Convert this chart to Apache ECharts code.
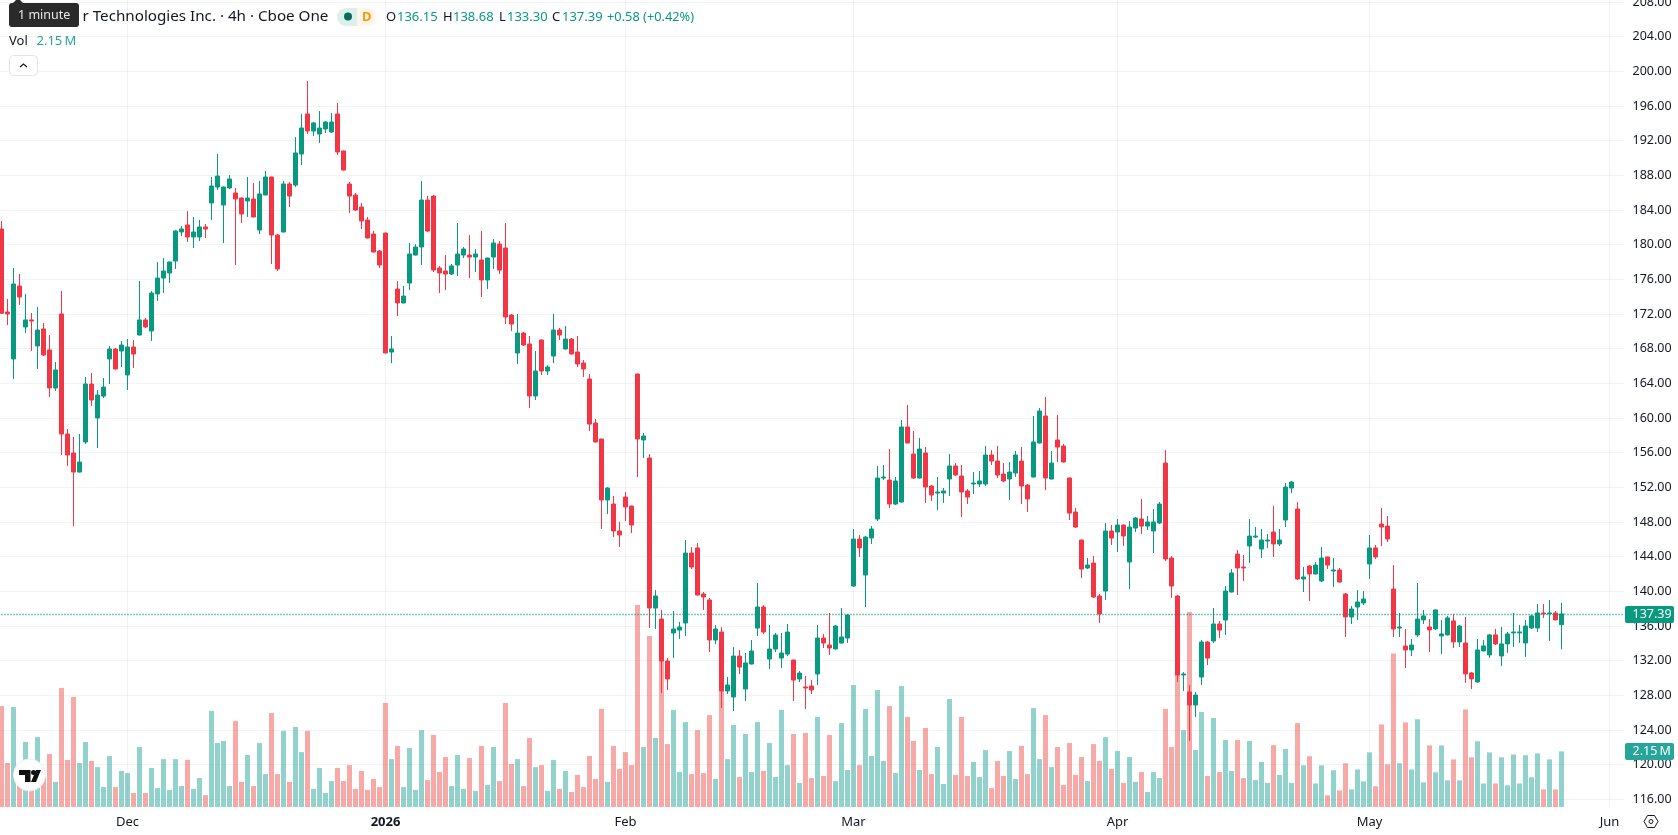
<!DOCTYPE html>
<html>
<head>
<meta charset="utf-8">
<title>Candlestick chart</title>
<style>html,body{margin:0;padding:0;background:#fff}#chart{width:1678px;height:835px}</style>
<script src="https://cdn.jsdelivr.net/npm/echarts@6/dist/echarts.min.js"></script>
</head>
<body>
<div id="chart"></div>
<script>
// Four-hour bars, oldest first
const opens = [
181.81,172.23,166.81,175.23,170.50,171.31,168.31,170.27,167.85,163.46,
172.00,158.15,155.96,153.76,157.23,163.92,160.00,162.53,166.81,167.96,
167.73,164.96,168.19,169.58,171.31,170.04,174.31,176.15,176.73,178.11,
181.46,182.27,180.88,180.88,182.04,184.81,186.65,184.58,186.54,185.96,
185.38,185.04,185.27,181.69,185.73,187.81,181.11,181.46,187.00,186.88,
190.46,195.08,193.11,192.77,193.35,193.00,195.08,190.81,187.00,185.73,
184.34,182.84,181.23,179.27,181.34,167.61,174.88,173.27,175.57,178.80,
179.73,185.15,185.61,177.30,176.96,176.61,177.65,178.80,178.80,178.57,
178.23,175.92,178.57,180.07,179.61,171.88,167.50,169.80,168.54,162.54,
169.00,165.42,167.15,170.15,167.96,169.11,167.61,166.34,164.50,159.42,
157.57,150.54,150.07,146.96,150.88,149.84,165.07,157.46,155.38,138.07,
136.80,131.96,135.19,135.53,136.34,144.42,145.00,139.69,139.00,134.38,
135.30,128.50,127.80,132.53,128.73,131.61,135.76,138.19,132.19,133.34,
132.30,132.76,132.07,129.88,128.96,129.07,130.46,134.61,133.80,133.34,
134.03,134.61,140.61,146.03,141.88,146.15,148.34,153.07,152.84,150.07,
150.30,158.96,155.84,153.07,155.96,152.15,151.34,151.34,152.96,154.46,
153.30,151.57,152.38,152.38,152.38,155.73,155.03,153.53,152.96,153.65,
155.03,152.26,153.19,157.11,160.23,152.96,157.46,156.76,153.07,149.15,
145.92,142.69,143.26,139.46,140.03,146.96,146.84,147.65,143.38,147.30,
148.34,147.53,146.96,147.88,154.80,143.84,139.46,130.34,128.38,126.88,
130.11,134.15,134.26,136.23,136.69,139.92,144.30,142.80,145.23,146.26,
144.88,145.80,146.84,145.46,148.23,151.92,149.50,141.42,142.92,142.00,
141.19,143.96,142.34,142.46,139.69,137.04,138.19,138.65,143.15,145.00,
147.76,147.53,140.26,135.76,133.69,133.23,134.96,136.70,135.89,135.66,
134.85,134.97,136.58,134.16,134.04,130.58,129.54,133.12,132.66,134.97,
132.54,133.93,135.20,135.20,134.04,135.77,135.77,137.50,137.39,137.50,136.15];

const highs = [
182.73,173.73,177.31,176.61,174.31,172.11,172.81,170.96,169.58,166.46,
174.65,158.73,157.80,158.15,164.73,165.19,163.23,164.61,168.31,168.08,
168.88,169.11,169.00,175.81,171.54,174.65,178.00,178.46,178.05,181.65,
182.15,183.88,183.19,182.85,182.38,187.81,190.46,186.70,188.04,186.54,
185.45,187.81,187.11,187.35,188.50,187.85,181.23,187.35,187.23,192.42,
195.08,198.88,194.15,195.42,194.27,195.19,196.35,190.85,187.23,185.96,
184.80,183.19,181.57,179.38,181.38,169.46,175.80,175.23,180.19,180.07,
187.34,185.61,185.73,177.54,178.80,177.77,182.50,179.73,181.11,179.50,
181.57,178.50,180.65,180.42,182.50,172.00,172.00,169.92,169.46,167.73,
169.05,166.11,172.00,170.38,170.61,169.23,169.46,166.69,165.07,159.88,
157.62,152.04,151.00,148.00,151.46,149.88,165.12,158.26,155.84,140.15,
137.84,132.30,137.73,136.46,145.92,145.11,145.57,139.92,139.23,136.11,
135.88,130.11,133.57,133.23,132.88,134.38,140.96,138.42,136.11,135.19,
135.19,136.23,132.12,130.80,130.23,129.76,136.11,135.07,137.50,136.11,
138.07,137.38,147.19,146.50,146.38,147.53,154.46,154.57,156.42,153.19,
159.76,161.50,158.50,157.69,156.65,152.26,153.19,151.92,155.84,154.80,
154.57,151.80,153.76,153.88,156.76,156.30,156.76,154.80,154.92,156.19,
156.65,152.38,160.23,161.15,162.42,156.19,160.34,157.00,153.12,149.61,
145.96,143.84,144.07,139.69,147.88,147.65,148.34,147.70,148.11,148.57,
150.65,148.69,149.50,150.30,156.30,144.07,139.57,130.69,129.19,128.38,
134.38,134.26,138.07,136.57,140.61,142.57,144.76,144.19,148.34,147.42,
147.19,146.61,149.84,147.19,152.50,152.73,150.30,142.80,143.03,143.38,
145.11,144.00,143.84,142.69,139.80,138.30,140.15,140.03,146.50,145.34,
149.61,148.69,143.03,137.50,135.65,134.50,140.96,137.85,136.81,137.90,
136.70,137.16,137.39,136.12,137.04,130.70,134.50,134.39,135.08,135.66,
135.89,135.31,137.50,136.12,136.70,137.27,138.54,138.54,139.00,137.73,138.68];

const lows = [
172.00,170.73,164.50,173.04,169.81,167.73,165.65,167.15,162.42,163.11,
155.73,154.46,147.53,153.70,157.00,161.38,156.53,162.30,163.92,165.60,
165.88,163.23,165.77,169.50,170.38,168.88,173.50,174.42,175.58,177.19,
181.00,180.31,179.61,180.42,180.77,182.85,186.31,180.19,186.42,177.65,
182.50,183.19,183.15,181.23,185.70,177.77,176.96,181.40,184.35,186.65,
189.19,192.77,192.54,191.73,192.88,192.88,190.35,188.55,183.65,183.88,
181.80,180.72,179.10,177.30,167.46,166.34,171.77,173.22,174.77,178.75,
177.65,181.46,176.84,174.42,174.77,176.50,176.38,178.46,176.15,176.84,
173.96,174.88,177.19,176.61,170.84,170.04,166.23,168.30,161.15,162.07,
164.96,164.96,166.34,169.00,167.90,167.33,165.88,164.73,158.50,157.18,
147.19,148.92,146.27,145.11,148.11,146.73,153.19,155.38,135.76,135.65,
128.26,128.61,132.30,134.50,134.84,142.57,139.52,137.84,133.00,133.92,
126.53,128.15,126.19,130.46,127.34,131.56,134.84,135.07,131.03,133.00,
131.15,132.53,127.34,129.53,126.42,128.15,129.19,133.46,132.65,133.30,
133.98,134.03,140.50,143.96,138.19,145.46,148.11,152.84,149.61,149.96,
150.25,157.06,152.96,153.02,150.19,150.42,149.38,150.19,151.00,153.30,
148.57,150.07,151.23,152.03,152.15,154.57,153.07,152.61,150.53,153.19,
150.07,149.15,153.14,157.06,151.69,152.91,154.92,154.87,148.23,147.30,
141.53,142.57,139.23,136.34,139.00,145.34,144.53,145.23,140.26,146.84,
146.61,147.07,144.42,147.76,143.50,139.23,129.53,128.50,122.73,125.50,
129.19,131.50,134.03,134.61,134.96,139.87,139.57,141.19,143.26,146.15,
143.84,145.00,143.96,145.23,147.42,151.34,141.30,139.92,138.88,141.95,
141.07,142.57,140.50,141.02,134.73,136.23,136.69,138.42,141.42,143.73,
145.23,145.69,134.73,134.73,131.15,132.53,134.73,136.23,133.00,135.54,
132.77,134.92,133.47,133.58,129.43,128.73,129.43,133.07,132.31,133.81,
131.39,132.89,133.58,134.04,132.43,135.66,135.31,136.93,134.27,136.65,133.30];

const closes = [
172.08,172.00,175.46,173.96,171.31,171.19,170.15,167.27,163.46,165.54,
158.15,155.73,153.76,154.92,163.92,162.07,162.65,163.57,167.96,165.65,
168.42,168.19,167.38,171.31,170.50,174.42,176.15,176.96,178.00,181.58,
181.81,180.88,181.46,182.04,181.81,186.77,187.92,186.65,187.58,185.27,
183.54,185.38,183.19,185.85,187.81,181.11,177.19,187.00,185.61,190.58,
193.46,193.11,194.04,193.46,194.15,194.15,190.69,188.61,185.61,184.00,
182.73,180.77,179.15,177.65,167.50,167.96,173.27,174.07,178.92,179.73,
185.15,181.57,177.07,176.73,176.61,177.54,178.92,179.50,178.57,178.92,
175.92,178.46,180.19,177.07,171.65,170.84,169.80,168.42,162.54,165.42,
165.42,165.88,170.15,169.57,169.11,167.38,166.23,165.65,159.30,157.23,
150.54,151.92,146.96,146.50,149.73,147.65,157.57,157.92,138.07,139.46,
131.96,129.88,135.65,135.88,144.42,142.80,139.57,139.34,134.38,135.65,
128.50,129.19,132.53,131.26,131.73,133.11,138.19,135.30,133.34,134.96,
132.88,135.30,129.76,130.57,128.84,128.61,134.61,134.03,133.46,136.00,
134.73,137.26,146.03,145.00,146.26,147.19,153.07,153.19,150.07,152.73,
158.96,157.11,153.07,156.42,152.03,151.11,151.46,151.57,154.46,153.42,
151.46,150.88,152.50,152.73,155.73,155.03,153.42,152.73,153.76,155.73,
152.15,150.65,157.23,160.80,153.07,154.80,156.65,154.92,149.03,147.42,
142.57,143.03,139.34,137.38,146.96,146.15,147.65,146.38,147.42,148.46,
147.53,148.00,148.00,150.07,143.73,140.61,130.34,130.46,126.88,128.03,
134.15,132.30,136.23,135.53,140.03,142.11,142.69,142.69,146.38,146.38,
145.92,145.92,145.46,145.92,152.03,152.61,141.42,141.65,142.00,143.03,
143.84,143.03,142.46,141.07,137.04,137.96,138.77,139.11,145.00,143.96,
147.42,146.03,135.65,135.88,133.23,133.80,136.80,137.16,135.54,137.85,
135.08,136.93,134.16,136.00,130.47,129.89,133.23,133.70,134.97,133.93,
133.93,135.08,135.31,135.31,136.00,137.16,137.50,137.39,137.50,136.70,137.39];

// Traded volume per bar, in millions of shares
const volumes = [
3.90,1.70,3.86,0.91,2.51,0.98,2.70,1.20,2.05,0.97,
4.60,1.82,4.25,1.70,2.51,1.78,1.54,0.77,1.97,0.77,
1.39,1.31,0.54,2.32,0.54,1.51,0.73,1.85,0.66,1.85,
0.81,1.82,0.70,1.12,0.46,3.71,2.47,2.55,0.81,3.32,
0.97,2.01,0.81,2.47,1.27,3.63,1.27,2.94,0.97,3.09,
2.12,2.94,0.70,1.51,0.54,1.00,1.51,1.00,1.62,0.70,
1.39,0.66,1.08,0.77,4.02,1.85,2.36,0.77,2.28,0.66,
2.97,1.04,2.78,1.35,1.93,0.81,2.01,0.70,1.89,0.62,
2.36,0.85,2.32,1.00,4.02,1.66,1.85,0.81,2.67,1.54,
1.62,0.62,1.82,0.70,1.39,0.58,1.24,0.77,1.97,1.08,
3.79,0.97,2.36,1.47,2.12,1.62,7.80,2.32,6.60,2.67,
6.19,2.43,3.75,1.35,3.28,1.27,2.97,1.31,3.55,1.08,
5.16,1.85,3.17,1.16,2.82,1.35,3.28,1.39,2.47,1.16,
3.75,1.62,2.82,0.93,2.86,1.12,3.48,1.20,2.78,1.00,
3.24,1.43,4.71,1.62,3.79,1.97,4.52,1.78,3.90,1.31,
4.67,3.48,2.55,1.43,3.05,1.27,2.32,0.89,4.17,1.24,
3.48,1.20,1.74,1.16,2.20,0.73,1.78,1.20,2.16,1.08,
2.36,1.27,3.82,1.85,3.55,1.54,2.32,0.85,2.47,1.24,
1.93,1.00,2.43,1.78,2.70,1.47,2.16,0.93,1.93,0.97,
1.35,0.58,1.35,1.12,3.79,2.32,6.13,2.97,7.53,2.20,
3.67,1.20,3.44,1.35,2.59,1.39,2.59,1.12,2.55,1.04,
1.74,0.93,2.39,1.24,2.24,0.93,3.24,1.61,1.96,0.91,
1.61,0.45,1.42,0.64,1.69,0.68,1.45,0.99,2.11,0.80,
3.19,1.65,5.93,1.69,3.27,1.45,3.39,0.95,2.38,1.34,
2.38,1.03,1.84,1.03,3.77,1.92,2.54,0.91,2.11,0.91,
1.92,0.84,2.03,0.91,2.00,1.15,2.07,0.68,1.84,0.68,2.15];

// Time axis: bar slots (including empty ones after the last bar) and month marks
const slotCount = 271;
const monthSlots = [21, 64, 104, 142, 186, 228, 268];
const monthLabels = ['Dec', '2026', 'Feb', 'Mar', 'Apr', 'May', 'Jun'];

const lastClose = 137.39;
const lastVolumeText = '2.15\u2009M';
const UP = '#089981', DOWN = '#F23645';
const VOL_UP = 'rgba(38,166,154,0.5)', VOL_DOWN = 'rgba(239,83,80,0.5)';
const GRID = 'rgba(42,46,57,0.06)', INK = '#131722';
const FONT = '"Noto Sans", sans-serif';

const categories = Array.from({length: slotCount}, (_, i) => String(i));
const candleData = opens.map((o, i) => [o, closes[i], lows[i], highs[i]]);
const volumeData = volumes.map((v, i) => ({
  value: v,
  itemStyle: {color: closes[i] >= opens[i] ? VOL_UP : VOL_DOWN}
}));

function label(x, y, text, color, size, weight, z) {
  return {type: 'text', x, y, z: z || 100, silent: true,
    style: {text, fill: color, font: (weight || 'normal') + ' ' + (size || 13) + 'px ' + FONT, textVerticalAlign: 'middle'}};
}

const graphics = [
  // Symbol title and status badge
  label(82.5, 17, 'r Technologies Inc. · 4h · Cboe One', INK, 15.2),
  {type: 'rect', z: 99, silent: true, shape: {x: 337, y: 8, width: 20, height: 18, r: [9, 0, 0, 9]}, style: {fill: '#dbf0ec'}},
  {type: 'rect', z: 99, silent: true, shape: {x: 357, y: 8, width: 20, height: 18, r: [0, 9, 9, 0]}, style: {fill: '#fff5ea'}},
  {type: 'circle', z: 100, silent: true, shape: {cx: 348, cy: 16.5, r: 4}, style: {fill: '#0a6b5b'}},
  label(362, 17, 'D', '#ff9800', 13, 'bold'),
  // OHLC readout
  label(386, 17, 'O', INK), label(397, 17, '136.15', UP),
  label(443, 17, 'H', INK), label(453, 17, '138.68', UP),
  label(499, 17, 'L', INK), label(507, 17, '133.30', UP),
  label(552, 17, 'C', INK), label(562, 17, '137.39', UP),
  label(607, 17, '+0.58 (+0.42%)', UP, 12.8),
  // Volume legend and collapse button
  label(9, 41, 'Vol', INK), label(36.5, 41, lastVolumeText, '#26a69a'),
  {type: 'rect', z: 100, silent: true, shape: {x: 9.5, y: 55.5, width: 28, height: 20, r: 4}, style: {fill: '#fff', stroke: '#e0e3eb', lineWidth: 1}},
  {type: 'polyline', z: 101, silent: true, shape: {points: [[20, 67], [23.5, 64], [27, 67]]}, style: {fill: 'none', stroke: INK, lineWidth: 1.2}},
  // Hover hint
  {type: 'polygon', z: 110, silent: true, shape: {points: [[12, 4], [16, 0], [20, 0], [24, 4]]}, style: {fill: '#2a2a2a'}},
  {type: 'rect', z: 110, silent: true, shape: {x: 9, y: 3, width: 70, height: 24, r: 3}, style: {fill: '#2a2a2a'}},
  label(18, 15.5, '1 minute', '#e8e8e8', 12.5, 'normal', 111),
  // Last price and volume tags
  {type: 'rect', z: 110, silent: true, shape: {x: 1625, y: 606, width: 49, height: 17, r: 2}, style: {fill: UP}},
  label(1632.5, 614.5, '137.39', '#fff', 12.5, 'normal', 111),
  {type: 'rect', z: 110, silent: true, shape: {x: 1625, y: 743, width: 49, height: 17, r: 2}, style: {fill: '#26a69a'}},
  label(1632.5, 751.5, lastVolumeText, '#fff', 12.5, 'normal', 111),
  // Brand mark
  {type: 'circle', z: 100, silent: true, shape: {cx: 29.5, cy: 775, r: 16}, style: {fill: '#fff', stroke: '#eceff2', lineWidth: 1}},
  {type: 'polygon', z: 101, silent: true, shape: {points: [[19, 770], [30.5, 770], [30.5, 782], [25, 782], [25, 775], [19, 775]]}, style: {fill: '#111'}},
  {type: 'circle', z: 101, silent: true, shape: {cx: 33.5, cy: 772.5, r: 2.5}, style: {fill: '#111'}},
  {type: 'polygon', z: 101, silent: true, shape: {points: [[36, 770], [41, 770], [36, 782], [31, 782]]}, style: {fill: '#111'}},
  // Axis settings
  {type: 'polygon', z: 100, silent: true, shape: {points: [[1644, 821.5], [1647.5, 815.5], [1654.5, 815.5], [1658, 821.5], [1654.5, 827.5], [1647.5, 827.5]]}, style: {fill: 'none', stroke: INK, lineWidth: 1}},
  {type: 'circle', z: 100, silent: true, shape: {cx: 1651, cy: 821.5, r: 2}, style: {fill: 'none', stroke: INK, lineWidth: 1}}
];

const chart = echarts.init(document.getElementById('chart'), null, {renderer: 'canvas'});
chart.setOption({
  animation: false,
  backgroundColor: '#ffffff',
  graphic: graphics,
  grid: [
    {left: -1.5, top: 0, width: 1626, height: 807, outerBoundsMode: 'none'},
    {left: -1.5, top: 2, width: 1626, height: 797.3, outerBoundsMode: 'none'}
  ],
  xAxis: [
    {
      type: 'category', gridIndex: 0, data: categories, boundaryGap: true,
      axisLine: {show: false}, axisTick: {show: false},
      splitLine: {
        show: true, alignWithLabel: true,
        interval: i => monthSlots.includes(i),
        lineStyle: {color: GRID, width: 1}
      },
      axisLabel: {
        show: true, margin: 9, fontFamily: FONT, fontSize: 13, color: INK,
        interval: i => monthSlots.includes(i),
        formatter: (v, i) => {
          const t = monthLabels[monthSlots.indexOf(Number(v))] || '';
          return t === '2026' ? '{year|' + t + '}' : t;
        },
        rich: {year: {fontFamily: FONT, fontSize: 13, fontWeight: 'bold', color: INK}}
      }
    },
    {type: 'category', gridIndex: 1, data: categories, boundaryGap: true, show: false}
  ],
  yAxis: [
    {type: 'value', gridIndex: 0, min: 0, max: 31.17, show: false, splitLine: {show: false}},
    {
      type: 'value', gridIndex: 1, position: 'right', min: 116, max: 208, interval: 4,
      axisLine: {show: false}, axisTick: {show: false},
      splitLine: {show: true, lineStyle: {color: GRID, width: 1}},
      axisLabel: {margin: 8, fontFamily: FONT, fontSize: 12.5, color: INK, showMinLabel: true, showMaxLabel: true, formatter: v => v.toFixed(2)}
    }
  ],
  series: [
    {type: 'bar', xAxisIndex: 0, yAxisIndex: 0, data: volumeData, barWidth: 5, z: 1, silent: true},
    {
      type: 'candlestick', xAxisIndex: 1, yAxisIndex: 1, data: candleData, barWidth: 4, z: 3, silent: true,
      itemStyle: {color: UP, color0: DOWN, borderColor: UP, borderColor0: DOWN, borderWidth: 1},
      markLine: {
        silent: true, symbol: 'none', animation: false, label: {show: false},
        lineStyle: {color: '#008f76', type: [1, 2], width: 1.3},
        data: [{yAxis: lastClose}]
      }
    }
  ]
});
</script>
</body>
</html>
